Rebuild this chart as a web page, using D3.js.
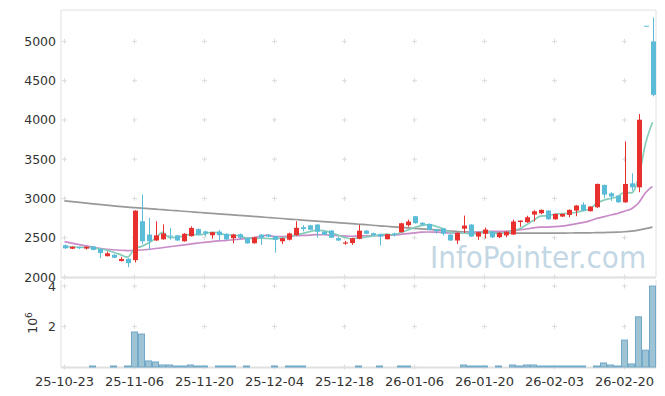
<!DOCTYPE html>
<html lang="en">
<head>
<meta charset="UTF-8">
<title>주가 차트</title>
<style>
  body { margin: 0; background: #fff; }
  svg { display: block; font-family: "DejaVu Sans", sans-serif; }
</style>
</head>
<body>
<div id="chart"></div>
<script src="https://cdn.jsdelivr.net/npm/d3@7"></script>
<script>
// trading days
const dates = [
  "2025-10-23","2025-10-24","2025-10-27","2025-10-28","2025-10-29","2025-10-30","2025-10-31",
  "2025-11-03","2025-11-04","2025-11-05","2025-11-06","2025-11-07","2025-11-10","2025-11-11",
  "2025-11-12","2025-11-13","2025-11-14","2025-11-17","2025-11-18","2025-11-19","2025-11-20",
  "2025-11-21","2025-11-24","2025-11-25","2025-11-26","2025-11-27","2025-11-28","2025-12-01",
  "2025-12-02","2025-12-03","2025-12-04","2025-12-05","2025-12-08","2025-12-09","2025-12-10",
  "2025-12-11","2025-12-12","2025-12-15","2025-12-16","2025-12-17","2025-12-18","2025-12-19",
  "2025-12-22","2025-12-23","2025-12-24","2025-12-26","2025-12-29","2025-12-30","2026-01-02",
  "2026-01-05","2026-01-06","2026-01-07","2026-01-08","2026-01-09","2026-01-12","2026-01-13",
  "2026-01-14","2026-01-15","2026-01-16","2026-01-19","2026-01-20","2026-01-21","2026-01-22",
  "2026-01-23","2026-01-26","2026-01-27","2026-01-28","2026-01-29","2026-01-30","2026-02-02",
  "2026-02-03","2026-02-04","2026-02-05","2026-02-06","2026-02-09","2026-02-10","2026-02-11",
  "2026-02-12","2026-02-13","2026-02-19","2026-02-20","2026-02-23","2026-02-24","2026-02-25",
  "2026-02-26"
];

const open = [
  2405,2360,2380,2362,2390,2358,2265,2282,2203,2232,
  2215,2710,2540,2465,2480,2528,2530,2455,2520,2610,
  2580,2532,2578,2550,2494,2545,2498,2430,2540,2540,
  2520,2455,2475,2532,2635,2658,2668,2578,2592,2495,
  2425,2432,2487,2590,2558,2548,2481,2555,2570,2660,
  2774,2690,2676,2608,2620,2540,2465,2615,2668,2515,
  2550,2578,2507,2530,2541,2700,2697,2795,2812,2846,
  2735,2770,2791,2846,2922,2838,2888,3172,3066,3036,
  2951,3193,3142,5200,5000
];
const high = [
  2415,2390,2385,2390,2392,2360,2325,2290,2257,2240,
  2850,3050,2755,2710,2670,2625,2535,2560,2645,2620,
  2590,2575,2600,2555,2550,2555,2500,2510,2545,2545,
  2525,2500,2565,2710,2660,2665,2672,2582,2595,2510,
  2460,2500,2664,2600,2565,2552,2548,2565,2690,2730,
  2778,2700,2680,2615,2625,2545,2570,2782,2672,2575,
  2630,2585,2570,2582,2731,2722,2780,2850,2860,2850,
  2808,2808,2860,2915,2950,2902,3190,3178,3080,3040,
  3727,3320,4076,5200,5305
];
const low = [
  2360,2355,2355,2350,2340,2240,2262,2238,2198,2125,
  2185,2420,2345,2460,2475,2475,2460,2450,2515,2530,
  2520,2486,2470,2467,2430,2480,2425,2425,2410,2505,
  2310,2420,2465,2525,2580,2595,2500,2535,2495,2460,
  2410,2410,2480,2545,2530,2400,2478,2515,2565,2640,
  2680,2660,2595,2550,2530,2460,2420,2560,2510,2473,
  2490,2495,2495,2505,2535,2640,2690,2706,2800,2730,
  2730,2765,2760,2774,2840,2833,2880,3003,2970,2945,
  2945,3100,3080,5200,4300
];
const close = [
  2365,2385,2372,2385,2345,2305,2302,2245,2230,2176,
  2845,2455,2455,2530,2555,2515,2465,2550,2625,2540,
  2555,2570,2533,2478,2540,2500,2428,2505,2500,2515,
  2475,2494,2555,2626,2612,2602,2576,2538,2500,2465,
  2440,2494,2590,2550,2533,2515,2545,2536,2684,2706,
  2685,2665,2600,2583,2550,2465,2562,2655,2515,2570,
  2604,2505,2562,2578,2706,2718,2761,2837,2855,2735,
  2803,2803,2855,2910,2846,2897,3185,3049,3024,2951,
  3185,3142,4003,5200,4320
];
const volume = [
  0,0,0,0,50000,0,0,50000,0,50000,
  1730000,1630000,300000,250000,100000,100000,50000,50000,100000,50000,
  50000,0,50000,50000,50000,0,50000,0,0,0,
  50000,0,50000,50000,50000,0,0,0,0,0,
  0,0,50000,0,0,50000,0,0,50000,50000,
  0,0,0,0,0,0,0,100000,50000,50000,
  50000,0,50000,0,100000,50000,100000,100000,50000,50000,
  50000,50000,50000,50000,50000,0,50000,200000,100000,50000,
  1330000,150000,2480000,830000,4000000
];

// moving averages (null = no value on that day)
const ma5 = [
  2385,null,null,null,2370,2358,2342,2316,2285,2252,
  2360,2390,2432,2492,2568,2502,2504,2523,2542,2539,
  2547,2568,2565,2535,2535,2524,2496,2490,2495,2490,
  2485,2498,2508,2533,2552,2578,2594,2591,2566,2536,
  2504,2487,2498,2508,2521,2536,2547,2536,2563,2597,
  2631,2655,2668,2648,2617,2573,2552,2563,2549,2553,
  2581,2570,2551,2564,2591,2614,2665,2720,2775,2781,
  2798,2807,2810,2821,2843,2862,2939,2977,3000,3021,
  3079,3070,3261,3696,3970
];
const ma20 = [
  2450,null,null,null,null,null,null,null,null,2337,
  null,null,null,null,null,null,null,null,null,2432,
  2442,2451,2459,2464,2473,2483,2490,2503,2516,2533,
  2514,2516,2521,2526,2529,2533,2539,2538,2532,2528,
  2523,2519,2522,2525,2525,2526,2532,2533,2542,2552,
  2562,2571,2573,2571,2568,2561,2560,2566,2567,2572,
  2580,2581,2580,2581,2590,2600,2611,2626,2634,2636,
  2641,2648,2661,2677,2692,2714,2745,2765,2790,2809,
  2838,2870,2942,3073,3154
];
const ma120 = [
  2970,null,null,null,null,null,null,null,null,2890,
  2883,2877,2870,2864,2857,2850,2844,2837,2831,2824,
  2817,2811,2804,2798,2791,2784,2778,2771,2765,2758,
  2751,2745,2738,2732,2725,2718,2712,2705,2699,2692,
  2685,2679,2672,2666,2659,2652,2646,2639,2633,2626,
  2619,2613,2606,2600,2593,2586,2580,2575,2571,2568,
  2565,2563,2561,2560,2559,2559,2558,2558,2558,2558,
  2558,2559,2560,2561,2562,2563,2564,2566,2568,2571,
  2576,2584,2598,2615,2635
];

const priceTicks = [2000, 2500, 3000, 3500, 4000, 4500, 5000];
const volTicks = [0, 2000000, 4000000];
const tickEvery = 10;

const width = 665, height = 396;

const data = dates.map((d, i) => ({
  date: d, o: open[i], h: high[i], l: low[i], c: close[i], v: volume[i]
}));

const svg = d3.select("#chart")
  .append("svg")
  .attr("width", width)
  .attr("height", height);

const x = d3.scaleBand().domain(dates).range([61, 656]).padding(0);
const bw = x.bandwidth();
const cx = d => x(d) + bw / 2;
const yP = d3.scaleLinear().domain([2000, 5400]).range([277, 10]);
const yV = d3.scaleLinear().domain([0, 4300000]).range([367, 280]);

const tickDates = dates.filter((d, i) => i % tickEvery === 0);

// watermark
svg.append("text")
  .attr("x", 430).attr("y", 268)
  .attr("font-family", "DejaVu Sans Condensed")
  .attr("font-stretch", "condensed")
  .attr("font-size", 31)
  .attr("fill", "#c3d7e4")
  .text("InfoPointer.com");

// grid crosses
const crosses = svg.append("g").attr("stroke", "#dcdcdc").attr("stroke-width", 1);
const crossPts = [];
tickDates.forEach(d => {
  priceTicks.forEach(p => crossPts.push([cx(d), yP(p)]));
  volTicks.forEach(v => crossPts.push([cx(d), yV(v)]));
});
crosses.selectAll("path")
  .data(crossPts)
  .join("path")
  .attr("d", p => `M${p[0] - 2.5},${p[1]}h5M${p[0]},${p[1] - 2.5}v5`);

// frames
const frame = svg.append("g").attr("fill", "none").attr("stroke", "#e0e0e0");
frame.append("path").attr("d", "M61,277V10H656V277").attr("stroke-width", 1);
frame.append("line").attr("x1", 61).attr("x2", 656).attr("y1", 277.5).attr("y2", 277.5).attr("stroke-width", 2);
frame.append("path").attr("d", "M61,280V367M656,280V367").attr("stroke-width", 1);
frame.append("line").attr("x1", 61).attr("x2", 656).attr("y1", 367.5).attr("y2", 367.5).attr("stroke-width", 2);

// volume bars
svg.append("g")
  .selectAll("rect")
  .data(data.filter(d => d.v > 0))
  .join("rect")
  .attr("x", d => x(d.date) + 0.5)
  .attr("y", d => yV(d.v))
  .attr("width", bw - 1)
  .attr("height", d => yV(0) - yV(d.v))
  .attr("fill", "#9dc3d5")
  .attr("stroke", "#72a9c8")
  .attr("stroke-width", 1);

// moving averages
const line = d3.line()
  .x(d => cx(d.date))
  .y(d => yP(d.v))
  .curve(d3.curveMonotoneX);
const maSeries = [
  { values: ma120, color: "#999999" },
  { values: ma20, color: "#c98bc8" },
  { values: ma5, color: "#88cdbb" }
];
svg.append("g")
  .attr("fill", "none")
  .selectAll("path")
  .data(maSeries)
  .join("path")
  .attr("stroke", s => s.color)
  .attr("stroke-width", 1.7)
  .attr("d", s => line(dates.map((d, i) => ({ date: d, v: s.values[i] })).filter(p => p.v != null)));

// candles
const up = "#e8302e", down = "#5bbcd8";
const candle = svg.append("g")
  .selectAll("g")
  .data(data)
  .join("g")
  .attr("stroke", d => d.c > d.o ? up : down)
  .attr("fill", d => d.c > d.o ? up : down);
candle.append("line")
  .attr("x1", d => Math.round(cx(d.date)) + 0.5)
  .attr("x2", d => Math.round(cx(d.date)) + 0.5)
  .attr("y1", d => yP(d.h))
  .attr("y2", d => yP(d.l))
  .attr("stroke-width", 1);
candle.append("rect")
  .attr("x", d => Math.round(cx(d.date)) - 2)
  .attr("width", 5)
  .attr("y", d => yP(Math.max(d.o, d.c)))
  .attr("height", d => Math.max(1, Math.abs(yP(d.o) - yP(d.c))))
  .attr("stroke", "none");

// axes
const fmtDate = d => d.slice(2);
const xAxis = svg.append("g")
  .attr("transform", "translate(0,368)")
  .call(d3.axisBottom(x).tickValues(tickDates).tickSize(0).tickPadding(9).tickFormat(fmtDate));
xAxis.select(".domain").remove();
xAxis.selectAll("text").attr("font-size", 13).attr("fill", "#333").attr("font-family", "DejaVu Sans");

const yAxis = svg.append("g")
  .attr("transform", "translate(56,0)")
  .call(d3.axisLeft(yP).tickValues(priceTicks).tickSize(0).tickPadding(0).tickFormat(d3.format("d")));
yAxis.select(".domain").remove();
yAxis.selectAll("text").attr("font-size", 12.5).attr("fill", "#333").attr("font-family", "DejaVu Sans");

const vAxis = svg.append("g")
  .attr("transform", "translate(56,0)")
  .call(d3.axisLeft(yV).tickValues(volTicks.slice(1)).tickSize(0).tickPadding(0).tickFormat(v => v / 1e6));
vAxis.select(".domain").remove();
vAxis.selectAll("text").attr("font-size", 12.5).attr("fill", "#333").attr("font-family", "DejaVu Sans");

// unit label
const unit = svg.append("text")
  .attr("transform", "translate(37,323) rotate(-90)")
  .attr("text-anchor", "middle")
  .attr("font-size", 12.5)
  .attr("fill", "#333");
unit.append("tspan").text("10");
unit.append("tspan").attr("dy", -5).attr("font-size", 9).text("6");
</script>
</body>
</html>
